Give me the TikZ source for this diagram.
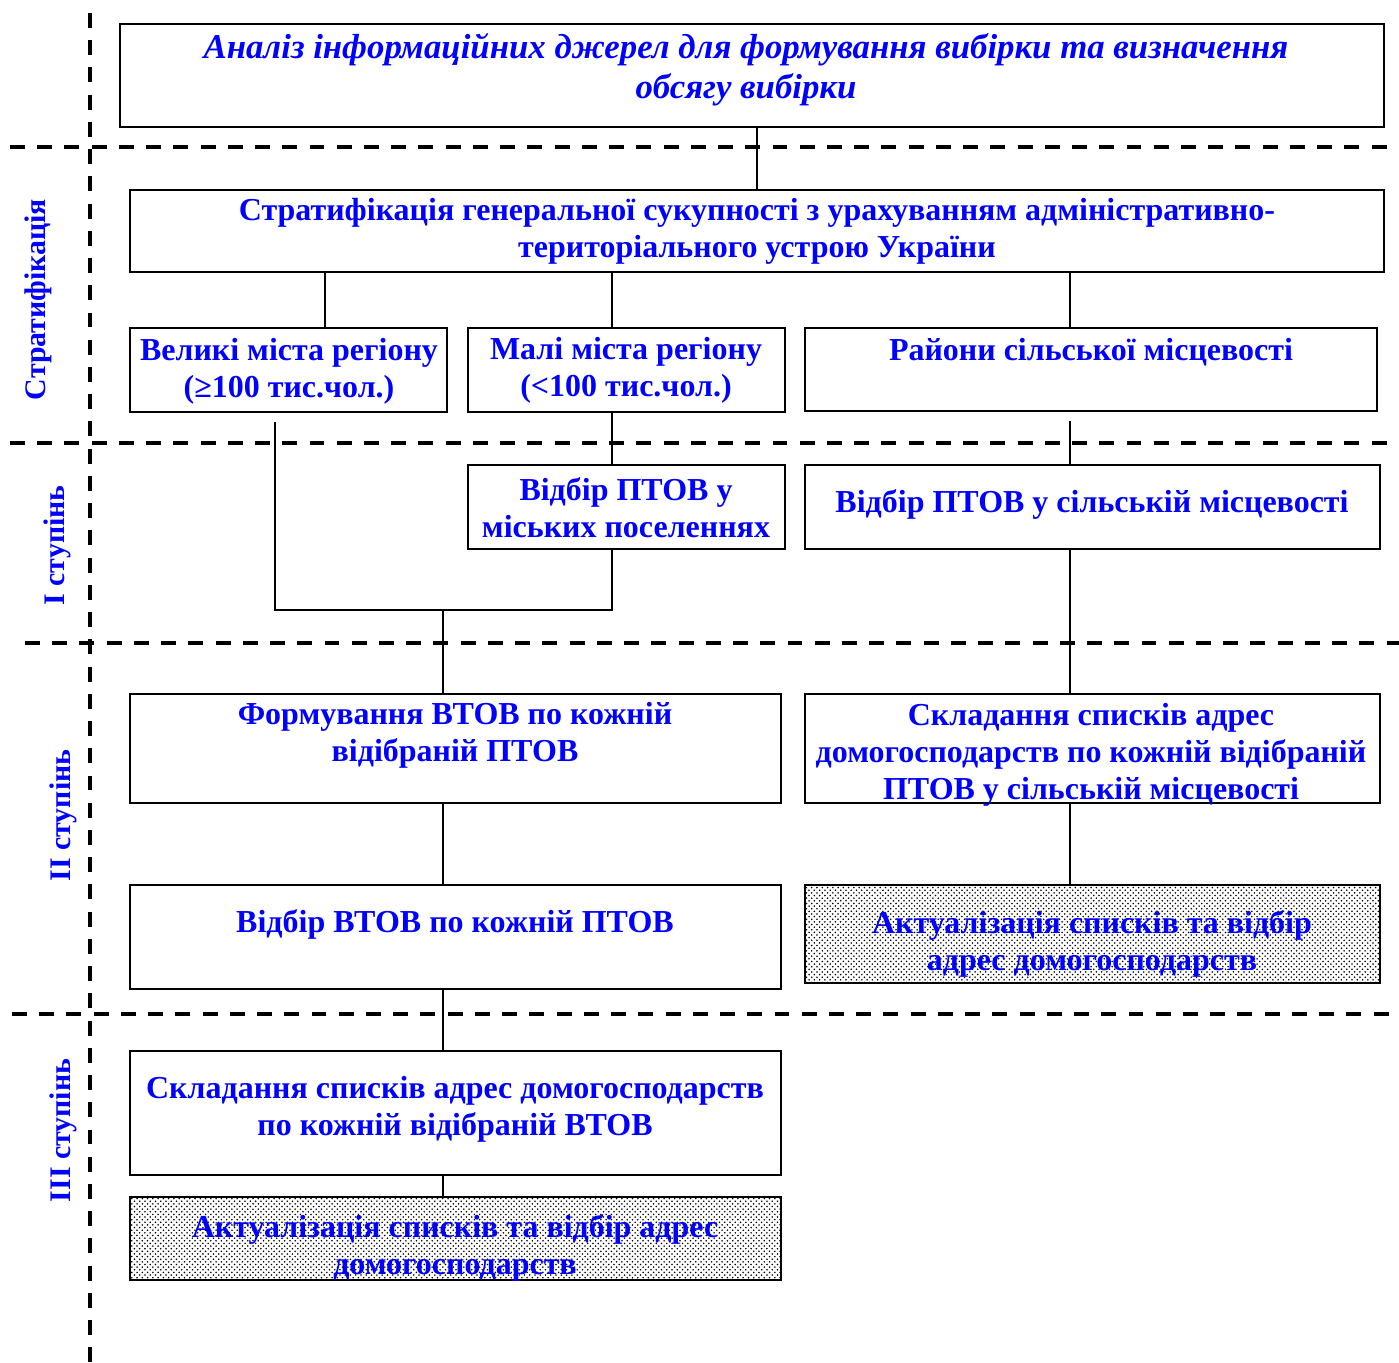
\documentclass[tikz,border=0pt]{standalone}
\usepackage{fontspec}
\setmainfont{Liberation Serif}
\usetikzlibrary{positioning,fit,patterns}

\begin{document}
\begin{tikzpicture}[x=0.02cm,y=-0.02cm,
  box/.style={draw, line width=1pt, inner sep=0pt},
  dotbox/.style={box, pattern=crosshatch dots, pattern color=black},
  txt/.style={text=blue, font=\fontsize{18.2}{21}\selectfont\bfseries, align=center, inner sep=0pt, yshift=-0.05cm},
  side/.style={txt, font=\fontsize{17}{20}\selectfont\bfseries, rotate=90},
  link/.style={draw, line width=0.8pt},
  sep/.style={line width=2.2pt, dash pattern=on 8.5pt off 7pt}
  ]
  \useasboundingbox (0,0) rectangle (1399,1362);
  % stage separators
  \draw[sep] (90,13) -- (90,1362);
  \draw[sep] (10,147) -- (1399,147);
  \draw[sep] (10,443) -- (1399,443);
  \draw[sep] (25,643) -- (1399,643);
  \draw[sep] (12,1014) -- (1399,1014);
  \node[side] (lstrat) at (38,297) {Стратифікація};
  \node[side] (lst1) at (57,543) {І ступінь};
  \node[side] (lst2) at (63,813) {ІІ ступінь};
  \node[side] (lst3) at (63,1128) {ІІІ ступінь};
  % boxes
  \node[box, fit={(120,24) (1384,127)}] (top) {};
  \node[box, fit={(130,190) (1384,272)}] (strat) {};
  \node[box, fit={(130,328) (447,412)}] (big) {};
  \node[box, fit={(468,328) (785,412)}] (small) {};
  \node[box, fit={(805,328) (1377,411)}] (rural) {};
  \node[box, fit={(468,465) (785,549)}] (citysel) {};
  \node[box, fit={(805,465) (1380,549)}] (ruralsel) {};
  \node[box, fit={(130,694) (781,803)}] (form) {};
  \node[box, fit={(805,694) (1380,803)}] (rurallist) {};
  \node[box, fit={(130,885) (781,989)}] (vtov) {};
  \node[dotbox, fit={(805,885) (1380,983)}] (ruralupd) {};
  \node[box, fit={(130,1051) (781,1175)}] (hlist) {};
  \node[dotbox, fit={(130,1197) (781,1280)}] (hupd) {};
  % texts
  \node[txt, font=\fontsize{19.8}{22.7}\selectfont\bfseries\itshape] (ttop) at (746,67)
    {Аналіз інформаційних джерел для формування вибірки та визначення\\обсягу вибірки};
  \node[txt] (tstrat) at (757,229)
    {Стратифікація генеральної сукупності з урахуванням адміністративно-\\територіального устрою України};
  \node[txt] (tbig) at (289,369) {Великі міста регіону\\(≥100 тис.чол.)};
  \node[txt] (tsmall) at (626,368) {Малі міста регіону\\(<100 тис.чол.)};
  \node[txt] (trural) at (1091,350) {Райони сільської місцевості};
  \node[txt] (tcitysel) at (626,505) {Відбір ПТОВ у\\міських поселеннях};
  \node[txt] (truralsel) at (1092,502) {Відбір ПТОВ у сільській місцевості};
  \node[txt] (tform) at (455,733) {Формування ВТОВ по кожній\\відібраній ПТОВ};
  \node[txt] (trurallist) at (1091,752)
    {Складання списків адрес\\домогосподарств по кожній відібраній\\ПТОВ у сільській місцевості};
  \node[txt] (tvtov) at (455,922) {Відбір ВТОВ по кожній ПТОВ};
  \node[txt] (truralupd) at (1092,941) {Актуалізація списків та відбір\\адрес домогосподарств};
  \node[txt] (thlist) at (455,1107) {Складання списків адрес домогосподарств\\по кожній відібраній ВТОВ};
  \node[txt] (thupd) at (455,1245) {Актуалізація списків та відбір адрес\\домогосподарств};
  % branch points
  \coordinate (xbig) at (325,0);
  \coordinate (xsmall) at (612,0);
  \coordinate (xrural) at (1070,0);
  \coordinate (xdown) at (275,0);
  \coordinate (jl) at (275,610);
  \coordinate (jr) at (612,610);
  \coordinate (jn) at (443,610);
  % connectors
  \draw[link] (top.south -| strat.north) -- (strat.north);
  \draw[link] (strat.south -| xbig) -- (big.north -| xbig);
  \draw[link] (strat.south -| xsmall) -- (small.north -| xsmall);
  \draw[link] (strat.south -| xrural) -- (rural.north -| xrural);
  \draw[link] (small.south -| xsmall) -- (citysel.north -| xsmall);
  \draw[link] ([yshift=-0.18cm]big.south -| xdown) -- (jl) -- (jr) -- (citysel.south -| jr);
  \draw[link] (jn) -- (form.north -| jn);
  \draw[link] ([yshift=-0.18cm]rural.south -| xrural) -- (ruralsel.north -| xrural);
  \draw[link] (ruralsel.south -| xrural) -- (rurallist.north -| xrural);
  \draw[link] (rurallist.south -| xrural) -- (ruralupd.north -| xrural);
  \draw[link] (form.south -| jn) -- (vtov.north -| jn);
  \draw[link] (vtov.south -| jn) -- (hlist.north -| jn);
  \draw[link] (hlist.south -| jn) -- (hupd.north -| jn);
\end{tikzpicture}
\end{document}
